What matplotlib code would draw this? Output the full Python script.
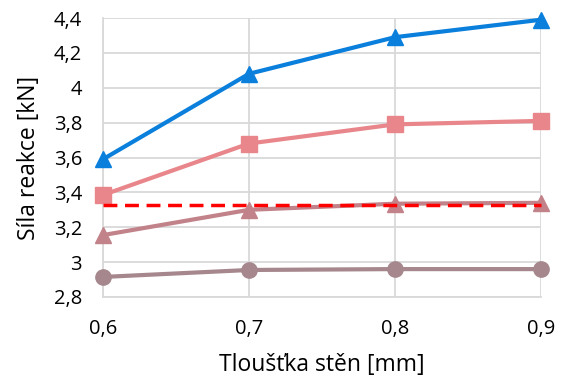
import matplotlib
matplotlib.use("Agg")
import matplotlib.pyplot as plt
from matplotlib.ticker import FuncFormatter, MultipleLocator

x = [0.6, 0.7, 0.8, 0.9]
blue_tri = [3.59, 4.08, 4.29, 4.39]
pink_sq = [3.385, 3.68, 3.79, 3.81]
limit = [3.325, 3.325, 3.325, 3.325]
mauve_tri = [3.155, 3.30, 3.335, 3.34]
grey_circ = [2.915, 2.955, 2.96, 2.96]

plt.rcParams['font.family'] = ['Open Sans', 'DejaVu Sans']

fig = plt.figure(figsize=(5.67, 3.83), dpi=100)
ax = fig.add_axes([103/567, 1-297/383, (541-103)/567, (297-18)/383])

ax.plot(x, grey_circ, color='#A5878D', lw=3, marker='o', ms=11, zorder=3, clip_on=False)
ax.plot(x, mauve_tri, color='#C28289', lw=3, marker='^', ms=11, zorder=3, clip_on=False)
ax.plot(x, limit, color='#FF0000', lw=2.5, ls=(0, (4, 2.2)), zorder=4, clip_on=False)
ax.plot(x, pink_sq, color='#E8868B', lw=3, marker='s', ms=11, zorder=3, clip_on=False)
ax.plot(x, blue_tri, color='#0A7FDC', lw=3, marker='^', ms=11, zorder=3, clip_on=False)

ax.set_xlim(0.6, 0.9)
ax.set_ylim(2.8, 4.4)
ax.xaxis.set_major_locator(MultipleLocator(0.1))
ax.yaxis.set_major_locator(MultipleLocator(0.2))
fmt = FuncFormatter(lambda v, p: (('%.1f' % v).rstrip('0').rstrip('.')).replace('.', ','))
ax.xaxis.set_major_formatter(fmt)
ax.yaxis.set_major_formatter(fmt)
ax.grid(True, color='#D9D9D9', lw=1.3)
ax.set_axisbelow(True)
for s in ['top', 'right']:
    ax.spines[s].set_visible(False)
for s in ['left', 'bottom']:
    ax.spines[s].set_color('#D9D9D9')
    ax.spines[s].set_linewidth(1.3)
ax.tick_params(labelsize=14.5, colors='#000000', length=0)
ax.tick_params(axis='x', pad=16)
ax.tick_params(axis='y', pad=15)
ax.set_xlabel('Tloušťka stěn [mm]', fontsize=16.5, labelpad=10)
ax.set_ylabel('Síla reakce [kN]', fontsize=16.5, labelpad=9)

fig.savefig('out.png', dpi=100)
